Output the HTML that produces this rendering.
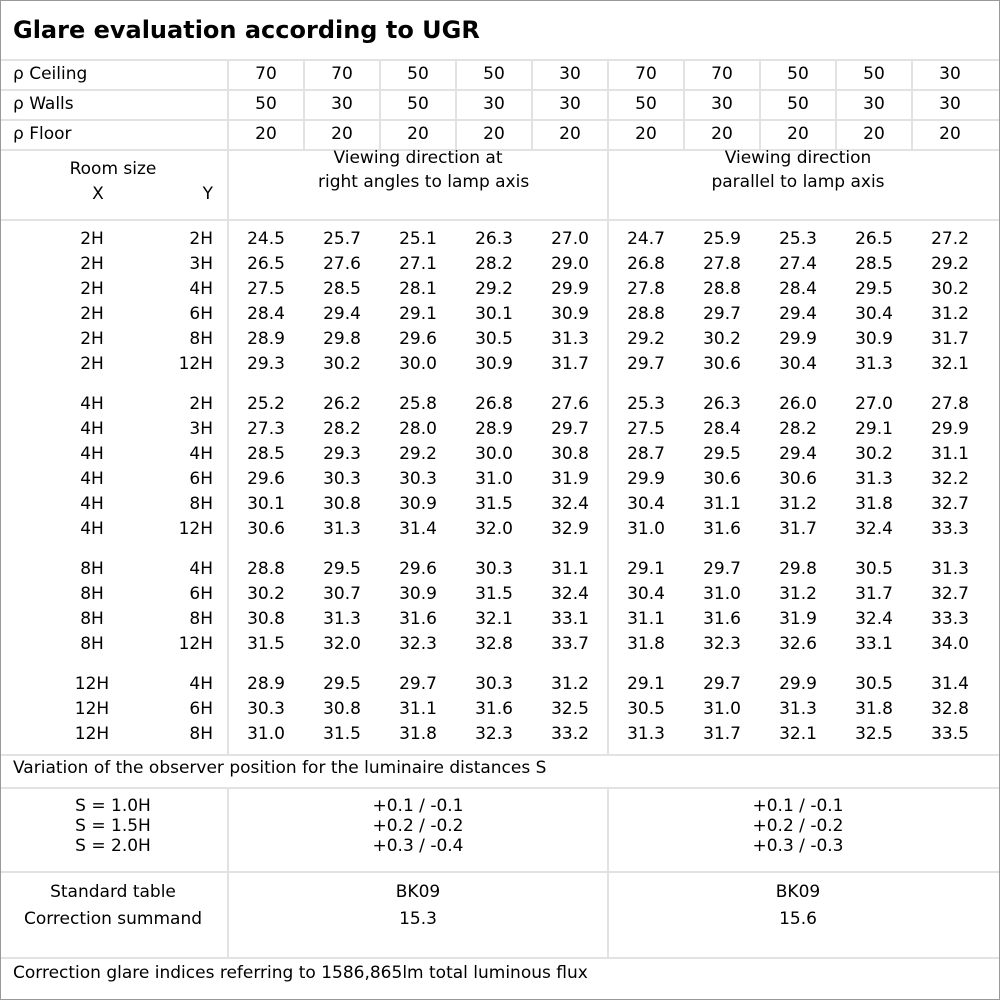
<!DOCTYPE html>
<html><head><meta charset="utf-8"><style>
body{margin:0;background:#fff}
#c{position:relative;width:1000px;height:1000px;overflow:hidden;font-family:"DejaVu Sans","Liberation Sans",sans-serif;font-size:17px;color:#000}
.t{position:absolute;line-height:22px;white-space:nowrap}
.h{position:absolute;background:#e2e2e2;height:2px}
.v{position:absolute;background:#e2e2e2;width:2px}
</style></head><body><div id="c">
<div style="position:absolute;left:0;top:0;width:998px;height:998px;border:1px solid #999"></div>
<div class="t" style="left:13px;top:13px;font-size:24px;line-height:34px;font-weight:bold">Glare evaluation according to UGR</div>
</div>
<script>
const c=document.getElementById('c');
function t(x,y,s,al){const d=document.createElement('div');d.className='t';d.textContent=s;
 if(al==='c'){d.style.left=(x-100)+'px';d.style.width='200px';d.style.textAlign='center';}
 else if(al==='r'){d.style.left=(x-200)+'px';d.style.width='200px';d.style.textAlign='right';}
 else d.style.left=x+'px';
 d.style.top=(y-11)+'px';c.appendChild(d);}
function h(x1,x2,y){const d=document.createElement('div');d.className='h';d.style.left=x1+'px';d.style.width=(x2-x1)+'px';d.style.top=(y-1)+'px';c.appendChild(d);}
function v(x,y1,y2){const d=document.createElement('div');d.className='v';d.style.left=(x-1)+'px';d.style.top=y1+'px';d.style.height=(y2-y1)+'px';c.appendChild(d);}
[60,90,120,150,220,755,788,872,958].forEach(y=>h(1,999,y));
v(228,60,755);
for(let i=1;i<10;i++){ if(i==5) continue; v(228+76*i,60,150);}
v(608,60,755);
v(228,788,958);v(608,788,958);
const rc=[[70,70,50,50,30,70,70,50,50,30],[50,30,50,30,30,50,30,50,30,30],[20,20,20,20,20,20,20,20,20,20]];
const rl=['ρ Ceiling','ρ Walls','ρ Floor'];
for(let r=0;r<3;r++){t(13,74+30*r,rl[r]);rc[r].forEach((v,i)=>t(266+76*i,74+30*r,String(v),'c'));}
t(113,169,'Room size','c');t(98,194,'X','c');t(213,194,'Y','r');
t(418,158,'Viewing direction at','c');t(418,182,'right angles to lamp axis','c');
t(798,158,'Viewing direction','c');t(798,182,'parallel to lamp axis','c');
const data=`2H 2H 24.5 25.7 25.1 26.3 27.0 24.7 25.9 25.3 26.5 27.2
2H 3H 26.5 27.6 27.1 28.2 29.0 26.8 27.8 27.4 28.5 29.2
2H 4H 27.5 28.5 28.1 29.2 29.9 27.8 28.8 28.4 29.5 30.2
2H 6H 28.4 29.4 29.1 30.1 30.9 28.8 29.7 29.4 30.4 31.2
2H 8H 28.9 29.8 29.6 30.5 31.3 29.2 30.2 29.9 30.9 31.7
2H 12H 29.3 30.2 30.0 30.9 31.7 29.7 30.6 30.4 31.3 32.1
-
4H 2H 25.2 26.2 25.8 26.8 27.6 25.3 26.3 26.0 27.0 27.8
4H 3H 27.3 28.2 28.0 28.9 29.7 27.5 28.4 28.2 29.1 29.9
4H 4H 28.5 29.3 29.2 30.0 30.8 28.7 29.5 29.4 30.2 31.1
4H 6H 29.6 30.3 30.3 31.0 31.9 29.9 30.6 30.6 31.3 32.2
4H 8H 30.1 30.8 30.9 31.5 32.4 30.4 31.1 31.2 31.8 32.7
4H 12H 30.6 31.3 31.4 32.0 32.9 31.0 31.6 31.7 32.4 33.3
-
8H 4H 28.8 29.5 29.6 30.3 31.1 29.1 29.7 29.8 30.5 31.3
8H 6H 30.2 30.7 30.9 31.5 32.4 30.4 31.0 31.2 31.7 32.7
8H 8H 30.8 31.3 31.6 32.1 33.1 31.1 31.6 31.9 32.4 33.3
8H 12H 31.5 32.0 32.3 32.8 33.7 31.8 32.3 32.6 33.1 34.0
-
12H 4H 28.9 29.5 29.7 30.3 31.2 29.1 29.7 29.9 30.5 31.4
12H 6H 30.3 30.8 31.1 31.6 32.5 30.5 31.0 31.3 31.8 32.8
12H 8H 31.0 31.5 31.8 32.3 33.2 31.3 31.7 32.1 32.5 33.5`.split('\n');
let y=239;
data.forEach(l=>{ if(l==='-'){y+=15;return;} const p=l.split(' ');
 t(92,y,p[0],'c');t(213,y,p[1],'r');for(let i=0;i<10;i++)t(266+76*i,y,p[i+2],'c');y+=25;});
t(13,768,'Variation of the observer position for the luminaire distances S');
['S = 1.0H','S = 1.5H','S = 2.0H'].forEach((s,i)=>t(113,806+20*i,s,'c'));
['+0.1 / -0.1','+0.2 / -0.2','+0.3 / -0.4'].forEach((s,i)=>t(418,806+20*i,s,'c'));
['+0.1 / -0.1','+0.2 / -0.2','+0.3 / -0.3'].forEach((s,i)=>t(798,806+20*i,s,'c'));
t(113,892,'Standard table','c');t(113,919,'Correction summand','c');
t(418,892,'BK09','c');t(418,919,'15.3','c');
t(798,892,'BK09','c');t(798,919,'15.6','c');
t(13,973,'Correction glare indices referring to 1586,865lm total luminous flux');
</script></body></html>
